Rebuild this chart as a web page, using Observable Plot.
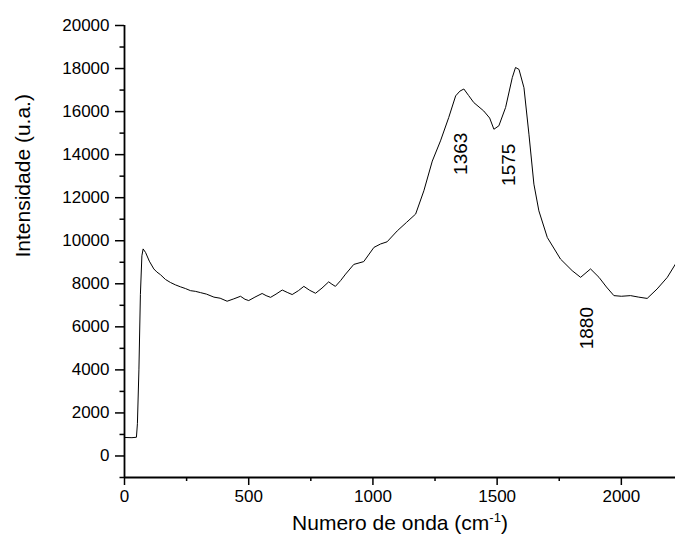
<!DOCTYPE html>
<html>
<head>
<meta charset="utf-8">
<script src="https://cdn.jsdelivr.net/npm/d3@7"></script>
<script src="https://cdn.jsdelivr.net/npm/@observablehq/plot@0.6"></script>
<style>
  html, body { margin: 0; padding: 0; background: #fff; }
</style>
</head>
<body>
<div id="chart"></div>
<script>
const wavenumber = [0, 30, 48, 52, 58, 64, 70, 75, 85, 100, 118, 130, 145, 165, 185, 205, 225, 245, 266, 285, 306, 330, 360, 385, 413, 440, 467, 485, 500, 525, 554, 570, 588, 610, 635, 655, 675, 700, 722, 745, 769, 795, 822, 835, 849, 870, 890, 923, 963, 1004, 1031, 1057, 1098, 1135, 1172, 1205, 1239, 1272, 1305, 1333, 1350, 1366, 1385, 1406, 1446, 1470, 1487, 1507, 1534, 1561, 1574, 1588, 1608, 1628, 1648, 1668, 1702, 1755, 1802, 1836, 1876, 1910, 1940, 1970, 2000, 2037, 2070, 2104, 2144, 2185, 2218];
const intensity = [860, 850, 870, 1500, 4000, 7500, 9300, 9620, 9450, 9050, 8690, 8550, 8420, 8200, 8060, 7950, 7860, 7780, 7680, 7650, 7590, 7520, 7380, 7330, 7190, 7300, 7420, 7280, 7220, 7380, 7550, 7450, 7370, 7520, 7710, 7600, 7500, 7680, 7880, 7700, 7560, 7800, 8090, 7980, 7880, 8150, 8450, 8900, 9030, 9690, 9850, 9950, 10460, 10850, 11240, 12320, 13700, 14640, 15720, 16730, 16950, 17050, 16750, 16420, 16030, 15700, 15180, 15340, 16190, 17580, 18050, 17960, 17110, 14950, 12630, 11390, 10150, 9150, 8610, 8300, 8690, 8300, 7850, 7450, 7420, 7450, 7380, 7320, 7760, 8300, 8920];

const peakLabels = ["1363", "1575", "1880"];
const peakLabelX = [1353, 1546, 1860];
const peakLabelY = [14040, 13530, 5940];

const xTicks = [0, 500, 1000, 1500, 2000];
const xMinorTicks = [250, 750, 1250, 1750];
const yTicks = [0, 2000, 4000, 6000, 8000, 10000, 12000, 14000, 16000, 18000, 20000];
const yMinorTicks = [-1000, 1000, 3000, 5000, 7000, 9000, 11000, 13000, 15000, 17000, 19000];

const xTitle = "Numero de onda (cm-1)";
const yTitle = "Intensidade (u.a.)";

const spectrum = wavenumber.map((w, i) => ({w, v: intensity[i]}));
const peaks = peakLabels.map((t, i) => ({t, x: peakLabelX[i], y: peakLabelY[i]}));

const chart = Plot.plot({
  width: 675,
  height: 547,
  marginTop: 25,
  marginBottom: 70,
  marginLeft: 124,
  marginRight: 0,
  style: {fontFamily: "'Liberation Sans', Arial, sans-serif", fontSize: "17px", color: "#000", background: "#fff", overflow: "visible"},
  x: {domain: [0, 2218]},
  y: {domain: [-1000, 20000]},
  marks: [
    Plot.axisY({ticks: yTicks, tickSize: 9, tickPadding: 6, strokeWidth: 1.5, tickFormat: d => String(d), label: null, fontSize: 17}),
    Plot.axisY({ticks: yMinorTicks, tickSize: 4.5, strokeWidth: 1.5, text: null, label: null}),
    Plot.axisX({ticks: xTicks, tickSize: 8, tickPadding: 4, strokeWidth: 1.5, tickFormat: d => String(d), label: null, fontSize: 17}),
    Plot.axisX({ticks: xMinorTicks, tickSize: 4, strokeWidth: 1.5, text: null, label: null}),
    Plot.ruleX([0], {strokeWidth: 1.8}),
    Plot.ruleY([-1000], {strokeWidth: 1.8}),
    Plot.line(spectrum, {x: "w", y: "v", stroke: "#000", strokeWidth: 1}),
    Plot.text(peaks, {x: "x", y: "y", text: "t", rotate: -90, fontSize: 19}),
    Plot.text([yTitle], {frameAnchor: "left", dx: -101, dy: 6, rotate: -90, fontSize: 21}),
    Plot.text([xTitle], {frameAnchor: "bottom", dy: 52, fontSize: 21})
  ]
});

document.getElementById("chart").appendChild(chart);

// superscript for the x title
d3.select(chart).selectAll("text").filter(function() { return this.textContent === xTitle; })
  .each(function() {
    const t = d3.select(this);
    t.text(null);
    t.append("tspan").text("Numero de onda (cm");
    t.append("tspan").attr("dy", "-8").attr("font-size", 13).text("-1");
    t.append("tspan").attr("dy", "8").text(")");
  });
</script>
</body>
</html>
